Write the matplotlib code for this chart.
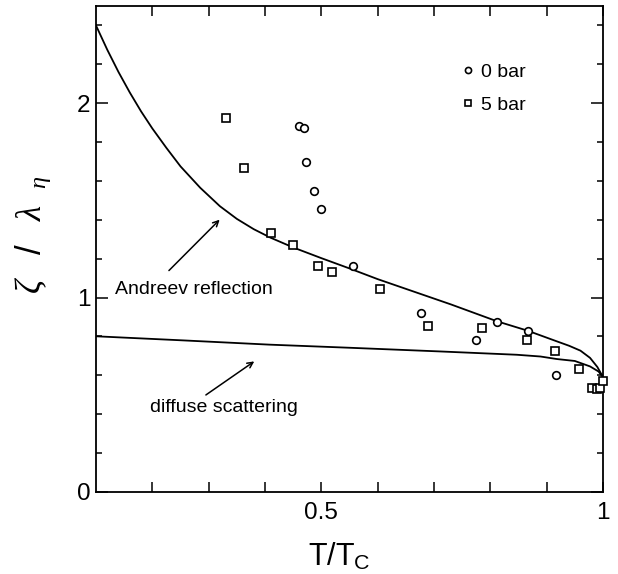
import numpy as np
import matplotlib
matplotlib.use("Agg")
from matplotlib import pyplot as plt

plt.rcParams["font.family"] = ["Liberation Sans", "DejaVu Sans"]
plt.rcParams["mathtext.fontset"] = "custom"
plt.rcParams["mathtext.rm"] = "Liberation Sans"
plt.rcParams["mathtext.sf"] = "Liberation Sans"
plt.rcParams["mathtext.it"] = "Liberation Serif:italic"

# 0 bar 데이터 (circle)
t_0bar = [0.461, 0.469, 0.472, 0.487, 0.500, 0.557, 0.677, 0.774, 0.812, 0.867, 0.917]
z_0bar = [1.883, 1.871, 1.697, 1.548, 1.457, 1.165, 0.921, 0.780, 0.873, 0.830, 0.603]

# 5 bar 데이터 (square)
t_5bar = [0.330, 0.363, 0.410, 0.450, 0.494, 0.519, 0.604, 0.690, 0.786, 0.865,
          0.915, 0.957, 0.980, 0.989, 0.995, 1.000]
z_5bar = [1.926, 1.668, 1.330, 1.273, 1.160, 1.131, 1.046, 0.856, 0.844, 0.780,
          0.727, 0.632, 0.534, 0.529, 0.534, 0.572]

# 이론 곡선 (Andreev reflection)
t_andreev = [0.100, 0.120, 0.140, 0.160, 0.180, 0.200, 0.225, 0.250, 0.285, 0.320,
             0.350, 0.380, 0.410, 0.450, 0.500, 0.550, 0.600, 0.660, 0.730, 0.812,
             0.866, 0.918, 0.940, 0.960, 0.977, 0.990, 1.000]
z_andreev = [2.400, 2.275, 2.160, 2.055, 1.958, 1.870, 1.770, 1.675, 1.565, 1.470,
             1.405, 1.352, 1.308, 1.258, 1.203, 1.150, 1.095, 1.035, 0.965, 0.878,
             0.830, 0.775, 0.752, 0.727, 0.690, 0.643, 0.591]

# 이론 곡선 (diffuse scattering)
t_diffuse = [0.100, 0.254, 0.408, 0.550, 0.711, 0.847, 0.889, 0.918, 0.950, 0.977, 0.992, 1.000]
z_diffuse = [0.801, 0.780, 0.758, 0.742, 0.723, 0.706, 0.697, 0.684, 0.674, 0.646, 0.620, 0.591]

fig = plt.figure(figsize=(6.18, 5.74), dpi=100)
ax = fig.add_axes([96 / 618, 82 / 574, 507 / 618, 486 / 574])

ax.plot(t_andreev, z_andreev, "k-", lw=1.3)
ax.plot(t_diffuse, z_diffuse, "k-", lw=1.3)
ax.plot(t_0bar, z_0bar, "o", ms=5.5, mfc="white", mec="black", mew=1.2,
        label="0 bar", clip_on=False, zorder=5)
ax.plot(t_5bar, z_5bar, "s", ms=5.5, mfc="white", mec="black", mew=1.2,
        label="5 bar", clip_on=False, zorder=5)

# 화살표 주석
ax.annotate("", xy=(0.323, 1.411), xytext=(0.226, 1.129),
            arrowprops=dict(arrowstyle="->", lw=1.1, color="black"))
ax.text(0.134, 1.041, "Andreev reflection", fontsize=14, va="center", ha="left")
ax.annotate("", xy=(0.385, 0.680), xytext=(0.291, 0.491),
            arrowprops=dict(arrowstyle="->", lw=1.1, color="black"))
ax.text(0.196, 0.433, "diffuse scattering", fontsize=14, va="center", ha="left")

ax.set_xlim(0.1, 1.0)
ax.set_ylim(0, 2.5)
ax.set_xticks([0.5, 1.0])
ax.set_xticklabels(["0.5", "1"])
ax.set_xticks(np.arange(0.2, 1.0, 0.1), minor=True)
ax.set_yticks([0, 1, 2])
ax.set_yticklabels(["0", "1", "2"])
ax.set_yticks([0.2, 0.4, 0.6, 0.8, 1.2, 1.4, 1.6, 1.8, 2.2, 2.4], minor=True)

ax.tick_params(which="both", direction="in", top=True, right=True, width=1.1,
               labelsize=17.5)
ax.tick_params(axis="x", which="both", length=7.5, pad=7)
ax.tick_params(axis="y", which="major", length=8.5, pad=4)
ax.tick_params(axis="y", which="minor", length=4)
for s in ax.spines.values():
    s.set_linewidth(1.3)

ax.set_xlabel(r"T/T$_{\mathrm{C}}$", fontsize=22)
ax.xaxis.set_label_coords(0.479, -0.10)
ax.set_ylabel(r"$\zeta\ \ \ /\ \ \ \lambda\ \ _{\eta}$", fontsize=25)
ax.yaxis.set_label_coords(-0.085, 0.53)

ax.legend(frameon=False, loc="upper left", bbox_to_anchor=(0.7203, 0.882),
          handlelength=0.7, handletextpad=0.3, labelspacing=0.8, borderaxespad=0,
          borderpad=0, fontsize=14, markerscale=0.8)

plt.savefig("out.png", dpi=100)
